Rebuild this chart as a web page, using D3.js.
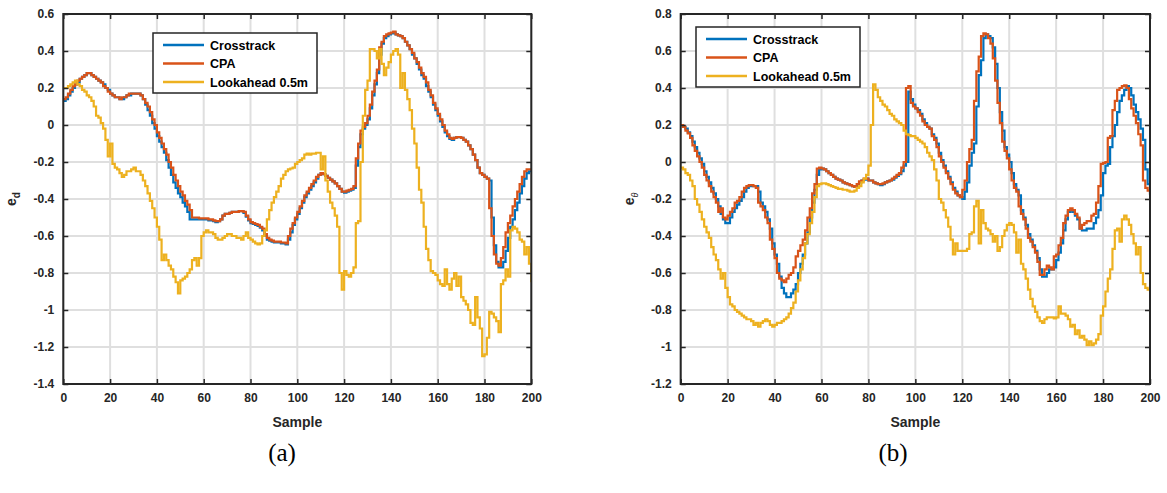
<!DOCTYPE html>
<html>
<head>
<meta charset="utf-8">
<script src="https://cdn.jsdelivr.net/npm/d3@7"></script>
<style>
  html, body { margin: 0; padding: 0; background: #fff; }
  svg { display: block; }
  .tick-label { font-family: "Liberation Sans", Arial, Helvetica, sans-serif; font-weight: bold; font-size: 12px; fill: #262626; }
  .axis-title { font-family: "Liberation Sans", Arial, Helvetica, sans-serif; font-weight: bold; font-size: 14px; fill: #262626; }
  .legend-text { font-family: "Liberation Sans", Arial, Helvetica, sans-serif; font-weight: bold; font-size: 12.5px; fill: #000; }
  .caption { font-family: "Liberation Serif", "DejaVu Serif", serif; font-size: 25px; fill: #000; }
</style>
</head>
<body>
<svg id="fig" width="1167" height="493"></svg>
<script>
// Series names and colours
const seriesNames = ["Crosstrack", "CPA", "Lookahead 0.5m"];
const seriesColors = ["#0072BD", "#D95319", "#EDB120"];

// X axis ticks (sample index), shared by both panels
const xTicks = [0, 20, 40, 60, 80, 100, 120, 140, 160, 180, 200];

// Panel (a): distance error e_d
const yTicksA = [0.6, 0.4, 0.2, 0, -0.2, -0.4, -0.6, -0.8, -1, -1.2, -1.4];
const crosstrackA = [
  0.13,0.14,0.16,0.18,0.20,0.22,0.23,0.25,0.26,0.27,0.28,0.28,0.27,0.26,0.25,0.24,0.23,0.22,0.20,0.19,
  0.17,0.16,0.15,0.15,0.14,0.14,0.15,0.16,0.16,0.17,0.17,0.17,0.17,0.16,0.14,0.11,0.08,0.05,0.01,-0.02,
  -0.06,-0.09,-0.12,-0.15,-0.19,-0.23,-0.27,-0.31,-0.34,-0.37,-0.39,-0.42,-0.44,-0.47,-0.51,-0.51,-0.51,-0.51,-0.51,-0.51,
  -0.51,-0.51,-0.515,-0.515,-0.52,-0.525,-0.52,-0.51,-0.49,-0.48,-0.48,-0.475,-0.47,-0.47,-0.47,-0.465,-0.465,-0.475,-0.495,-0.515,
  -0.53,-0.535,-0.54,-0.545,-0.555,-0.57,-0.60,-0.62,-0.625,-0.63,-0.635,-0.635,-0.635,-0.64,-0.64,-0.645,-0.62,-0.58,-0.54,-0.51,
  -0.48,-0.45,-0.42,-0.39,-0.37,-0.35,-0.33,-0.31,-0.29,-0.27,-0.26,-0.265,-0.275,-0.285,-0.295,-0.305,-0.315,-0.33,-0.345,-0.36,
  -0.365,-0.36,-0.355,-0.35,-0.34,-0.22,-0.12,-0.05,-0.02,0.00,0.03,0.09,0.16,0.22,0.28,0.38,0.44,0.47,0.48,0.49,
  0.495,0.50,0.49,0.485,0.48,0.47,0.45,0.43,0.41,0.38,0.36,0.33,0.30,0.27,0.25,0.21,0.18,0.15,0.11,0.08,
  0.05,0.02,-0.01,-0.04,-0.06,-0.075,-0.08,-0.07,-0.065,-0.065,-0.07,-0.08,-0.09,-0.11,-0.13,-0.16,-0.19,-0.23,-0.26,-0.27,
  -0.28,-0.29,-0.30,-0.50,-0.65,-0.74,-0.77,-0.77,-0.74,-0.68,-0.61,-0.55,-0.51,-0.46,-0.42,-0.37,-0.33,-0.29,-0.26,-0.25,
  -0.25
];
const cpaA = [
  0.14,0.15,0.17,0.19,0.21,0.22,0.24,0.25,0.26,0.27,0.28,0.28,0.27,0.26,0.25,0.24,0.23,0.21,0.20,0.18,
  0.17,0.16,0.15,0.15,0.14,0.15,0.15,0.16,0.17,0.17,0.17,0.17,0.17,0.16,0.14,0.12,0.10,0.07,0.03,0.00,
  -0.04,-0.07,-0.10,-0.13,-0.16,-0.20,-0.23,-0.27,-0.30,-0.33,-0.36,-0.38,-0.41,-0.43,-0.46,-0.50,-0.50,-0.50,-0.505,-0.505,
  -0.505,-0.505,-0.51,-0.51,-0.515,-0.52,-0.52,-0.51,-0.49,-0.48,-0.48,-0.475,-0.47,-0.47,-0.47,-0.465,-0.465,-0.47,-0.49,-0.51,
  -0.525,-0.53,-0.535,-0.54,-0.55,-0.56,-0.59,-0.61,-0.62,-0.625,-0.63,-0.63,-0.63,-0.635,-0.635,-0.64,-0.60,-0.56,-0.53,-0.50,
  -0.47,-0.44,-0.41,-0.38,-0.36,-0.34,-0.32,-0.30,-0.28,-0.27,-0.26,-0.265,-0.275,-0.285,-0.295,-0.305,-0.315,-0.33,-0.345,-0.36,
  -0.36,-0.355,-0.35,-0.345,-0.33,-0.18,-0.10,-0.03,-0.01,0.01,0.05,0.11,0.18,0.24,0.30,0.42,0.45,0.48,0.49,0.495,
  0.50,0.505,0.49,0.485,0.48,0.47,0.45,0.43,0.41,0.39,0.36,0.34,0.31,0.28,0.26,0.23,0.19,0.16,0.12,0.09,
  0.06,0.03,0.00,-0.03,-0.05,-0.07,-0.075,-0.07,-0.065,-0.065,-0.07,-0.08,-0.09,-0.11,-0.13,-0.16,-0.19,-0.23,-0.26,-0.27,
  -0.28,-0.29,-0.45,-0.60,-0.70,-0.75,-0.76,-0.72,-0.66,-0.58,-0.53,-0.49,-0.44,-0.40,-0.36,-0.32,-0.28,-0.25,-0.24,-0.24,
  -0.245
];
const lookaheadA = [
  0.20,0.20,0.21,0.22,0.23,0.24,0.22,0.21,0.19,0.18,0.16,0.15,0.13,0.10,0.05,0.04,0.01,-0.02,-0.08,-0.17,
  -0.10,-0.21,-0.23,-0.24,-0.26,-0.28,-0.27,-0.25,-0.25,-0.24,-0.23,-0.25,-0.25,-0.27,-0.30,-0.33,-0.37,-0.41,-0.45,-0.50,
  -0.55,-0.62,-0.73,-0.70,-0.73,-0.76,-0.78,-0.82,-0.85,-0.91,-0.84,-0.83,-0.82,-0.80,-0.78,-0.73,-0.72,-0.76,-0.72,-0.60,
  -0.58,-0.57,-0.58,-0.58,-0.59,-0.61,-0.62,-0.62,-0.61,-0.60,-0.59,-0.59,-0.60,-0.60,-0.61,-0.61,-0.62,-0.60,-0.58,-0.61,
  -0.62,-0.63,-0.64,-0.645,-0.64,-0.60,-0.57,-0.51,-0.46,-0.42,-0.39,-0.36,-0.33,-0.29,-0.27,-0.25,-0.24,-0.235,-0.23,-0.21,
  -0.20,-0.19,-0.18,-0.16,-0.155,-0.16,-0.155,-0.155,-0.15,-0.15,-0.24,-0.17,-0.30,-0.36,-0.42,-0.45,-0.49,-0.55,-0.80,-0.89,
  -0.79,-0.81,-0.82,-0.80,-0.77,-0.53,-0.52,-0.20,0.05,0.19,0.24,0.41,0.41,0.40,0.36,0.41,0.33,0.27,0.31,0.34,
  0.38,0.40,0.41,0.38,0.20,0.28,0.19,0.14,0.08,-0.02,-0.10,-0.23,-0.35,-0.42,-0.55,-0.67,-0.73,-0.79,-0.80,-0.81,
  -0.84,-0.86,-0.87,-0.78,-0.86,-0.89,-0.83,-0.80,-0.87,-0.82,-0.93,-0.95,-0.97,-1.00,-1.07,-1.08,-0.93,-1.04,-1.10,-1.25,
  -1.24,-1.15,-1.01,-1.02,-1.04,-1.06,-1.12,-0.86,-0.84,-0.78,-0.82,-0.57,-0.55,-0.56,-0.58,-0.62,-0.63,-0.70,-0.66,-0.75,
  -0.85
];

// Panel (b): heading error e_theta
const yTicksB = [0.8, 0.6, 0.4, 0.2, 0, -0.2, -0.4, -0.6, -0.8, -1, -1.2];
const crosstrackB = [
  0.20,0.19,0.18,0.16,0.14,0.11,0.08,0.05,0.02,-0.01,-0.05,-0.08,-0.11,-0.14,-0.17,-0.20,-0.24,-0.28,-0.31,-0.33,
  -0.33,-0.30,-0.27,-0.25,-0.23,-0.21,-0.19,-0.16,-0.14,-0.13,-0.13,-0.13,-0.13,-0.16,-0.22,-0.24,-0.27,-0.31,-0.36,-0.44,
  -0.50,-0.55,-0.62,-0.68,-0.71,-0.73,-0.73,-0.71,-0.69,-0.66,-0.60,-0.55,-0.50,-0.44,-0.38,-0.30,-0.22,-0.15,-0.07,-0.04,
  -0.035,-0.04,-0.05,-0.06,-0.07,-0.08,-0.09,-0.095,-0.10,-0.11,-0.115,-0.12,-0.125,-0.13,-0.135,-0.13,-0.11,-0.10,-0.095,-0.09,
  -0.10,-0.10,-0.11,-0.115,-0.12,-0.125,-0.12,-0.11,-0.105,-0.10,-0.095,-0.085,-0.075,-0.065,-0.05,-0.02,0.00,0.38,0.34,0.31,
  0.29,0.28,0.26,0.23,0.21,0.19,0.18,0.15,0.13,0.10,0.05,0.01,-0.02,-0.05,-0.08,-0.11,-0.14,-0.16,-0.18,-0.19,
  -0.20,-0.16,-0.11,-0.02,0.05,0.10,0.30,0.47,0.55,0.67,0.69,0.68,0.67,0.62,0.53,0.40,0.27,0.17,0.08,0.04,
  0.00,-0.06,-0.12,-0.15,-0.18,-0.26,-0.30,-0.34,-0.39,-0.42,-0.45,-0.48,-0.52,-0.58,-0.62,-0.62,-0.60,-0.58,-0.58,-0.57,
  -0.53,-0.49,-0.44,-0.37,-0.31,-0.27,-0.26,-0.27,-0.29,-0.31,-0.36,-0.37,-0.37,-0.36,-0.36,-0.36,-0.33,-0.30,-0.26,-0.18,
  -0.06,-0.02,-0.01,0.08,0.14,0.20,0.27,0.33,0.36,0.39,0.41,0.40,0.36,0.31,0.27,0.23,0.18,0.12,-0.04,-0.12,
  -0.18
];
const cpaB = [
  0.20,0.19,0.17,0.155,0.13,0.09,0.06,0.03,0.00,-0.03,-0.07,-0.10,-0.13,-0.16,-0.19,-0.22,-0.27,-0.25,-0.30,-0.31,
  -0.29,-0.27,-0.25,-0.22,-0.21,-0.19,-0.16,-0.14,-0.13,-0.125,-0.125,-0.13,-0.14,-0.22,-0.24,-0.26,-0.30,-0.33,-0.42,-0.47,
  -0.52,-0.60,-0.63,-0.64,-0.65,-0.63,-0.61,-0.60,-0.57,-0.51,-0.48,-0.45,-0.42,-0.37,-0.30,-0.25,-0.17,-0.12,-0.035,-0.03,
  -0.035,-0.04,-0.05,-0.06,-0.07,-0.08,-0.09,-0.095,-0.10,-0.11,-0.115,-0.12,-0.125,-0.13,-0.135,-0.12,-0.105,-0.10,-0.09,-0.09,
  -0.10,-0.10,-0.11,-0.115,-0.12,-0.12,-0.115,-0.11,-0.105,-0.10,-0.09,-0.08,-0.07,-0.06,-0.03,0.00,0.40,0.41,0.32,0.30,
  0.29,0.27,0.25,0.22,0.20,0.19,0.18,0.14,0.12,0.08,0.03,0.00,-0.03,-0.06,-0.09,-0.12,-0.15,-0.17,-0.18,-0.19,
  -0.15,-0.10,0.00,0.07,0.12,0.33,0.49,0.57,0.68,0.695,0.69,0.67,0.64,0.56,0.44,0.32,0.21,0.11,0.06,0.02,
  -0.04,-0.10,-0.14,-0.16,-0.24,-0.28,-0.31,-0.36,-0.41,-0.43,-0.46,-0.49,-0.54,-0.61,-0.61,-0.58,-0.56,-0.57,-0.58,-0.51,
  -0.50,-0.45,-0.41,-0.33,-0.29,-0.26,-0.25,-0.26,-0.28,-0.30,-0.36,-0.34,-0.33,-0.32,-0.32,-0.29,-0.28,-0.22,-0.13,-0.01,
  -0.005,0.00,0.13,0.14,0.28,0.33,0.39,0.40,0.41,0.415,0.40,0.34,0.29,0.25,0.21,0.15,0.09,-0.10,-0.14,-0.155,
  -0.17
];
const lookaheadB = [
  -0.03,-0.04,-0.06,-0.07,-0.10,-0.13,-0.20,-0.23,-0.27,-0.31,-0.35,-0.38,-0.41,-0.46,-0.50,-0.53,-0.58,-0.63,-0.60,-0.68,
  -0.73,-0.77,-0.78,-0.80,-0.81,-0.82,-0.83,-0.84,-0.85,-0.85,-0.86,-0.88,-0.87,-0.89,-0.87,-0.86,-0.85,-0.86,-0.88,-0.89,
  -0.88,-0.87,-0.87,-0.86,-0.85,-0.84,-0.82,-0.79,-0.76,-0.70,-0.64,-0.58,-0.52,-0.44,-0.39,-0.33,-0.27,-0.19,-0.13,-0.12,
  -0.115,-0.115,-0.12,-0.125,-0.13,-0.135,-0.14,-0.145,-0.145,-0.15,-0.15,-0.155,-0.16,-0.16,-0.155,-0.14,-0.13,-0.11,-0.09,-0.07,
  -0.02,0.20,0.42,0.39,0.35,0.33,0.31,0.30,0.28,0.26,0.25,0.23,0.22,0.21,0.20,0.17,0.15,0.145,0.14,0.14,
  0.13,0.12,0.11,0.10,0.08,0.05,0.03,0.01,-0.04,-0.10,-0.20,-0.22,-0.26,-0.30,-0.35,-0.42,-0.50,-0.44,-0.48,-0.48,
  -0.48,-0.48,-0.47,-0.39,-0.38,-0.24,-0.21,-0.44,-0.26,-0.33,-0.36,-0.37,-0.39,-0.43,-0.40,-0.48,-0.46,-0.40,-0.37,-0.34,
  -0.33,-0.34,-0.38,-0.49,-0.42,-0.55,-0.58,-0.63,-0.69,-0.74,-0.78,-0.81,-0.84,-0.86,-0.87,-0.85,-0.84,-0.84,-0.84,-0.845,
  -0.84,-0.78,-0.82,-0.82,-0.83,-0.85,-0.89,-0.88,-0.93,-0.91,-0.95,-0.94,-0.96,-0.99,-0.97,-0.99,-0.98,-0.96,-0.93,-0.83,
  -0.78,-0.70,-0.63,-0.58,-0.47,-0.37,-0.36,-0.43,-0.31,-0.29,-0.31,-0.34,-0.39,-0.44,-0.50,-0.46,-0.60,-0.66,-0.68,-0.69,
  -0.70
];

const svg = d3.select("#fig");

// Tick text in the plain-hyphen style: "0.6", "0", "-0.2", "-1"
const tickText = d => (Math.abs(d) < 1e-9 ? "0" : String(+d.toFixed(1)));

function drawPanel(cfg) {
  const x = d3.scaleLinear().domain([0, 200]).range([cfg.left, cfg.right]);
  const y = d3.scaleLinear().domain([cfg.yTicks[cfg.yTicks.length - 1], cfg.yTicks[0]]).range([cfg.bottom, cfg.top]);
  const g = svg.append("g");
  const w = cfg.right - cfg.left, h = cfg.bottom - cfg.top;

  // grid
  const grid = g.append("g").attr("stroke", "#dfdfdf").attr("stroke-width", 2);
  xTicks.forEach(t => grid.append("line").attr("x1", x(t)).attr("x2", x(t)).attr("y1", cfg.top).attr("y2", cfg.bottom));
  cfg.yTicks.forEach(t => grid.append("line").attr("x1", cfg.left).attr("x2", cfg.right).attr("y1", y(t)).attr("y2", y(t)));

  // clip for the data lines
  const clipId = "clip-" + cfg.id;
  svg.append("defs").append("clipPath").attr("id", clipId)
    .append("rect").attr("x", cfg.left).attr("y", cfg.top).attr("width", w).attr("height", h);

  const line = d3.line().x((d, i) => x(i)).y(d => y(d)).curve(d3.curveStepAfter);
  const lines = g.append("g").attr("clip-path", `url(#${clipId})`);
  cfg.series.forEach((s, k) => {
    lines.append("path").datum(s).attr("d", line)
      .attr("fill", "none").attr("stroke", seriesColors[k])
      .attr("stroke-width", 2.2).attr("stroke-linejoin", "miter");
  });

  // axes (box with inward ticks on all sides)
  const tickLen = 5;
  const axisColor = "#262626";
  const bottomAxis = d3.axisBottom(x).tickValues(xTicks).tickSizeInner(-tickLen).tickSizeOuter(0).tickPadding(9).tickFormat(d => String(d));
  const topAxis = d3.axisTop(x).tickValues(xTicks).tickSizeInner(-tickLen).tickSizeOuter(0).tickFormat("");
  const leftAxis = d3.axisLeft(y).tickValues(cfg.yTicks).tickSizeInner(-tickLen).tickSizeOuter(0).tickPadding(9).tickFormat(tickText);
  const rightAxis = d3.axisRight(y).tickValues(cfg.yTicks).tickSizeInner(-tickLen).tickSizeOuter(0).tickFormat("");

  const axes = [
    g.append("g").attr("transform", `translate(0,${cfg.bottom})`).call(bottomAxis),
    g.append("g").attr("transform", `translate(0,${cfg.top})`).call(topAxis),
    g.append("g").attr("transform", `translate(${cfg.left},0)`).call(leftAxis),
    g.append("g").attr("transform", `translate(${cfg.right},0)`).call(rightAxis)
  ];
  axes.forEach(a => {
    a.select(".domain").remove();
    a.selectAll(".tick line").attr("stroke", axisColor).attr("stroke-width", 1.5);
    a.selectAll(".tick text").attr("class", "tick-label").attr("fill", axisColor);
  });
  g.append("rect").attr("x", cfg.left).attr("y", cfg.top).attr("width", w).attr("height", h)
    .attr("fill", "none").attr("stroke", axisColor).attr("stroke-width", 2);

  // axis titles
  g.append("text").attr("class", "axis-title").attr("text-anchor", "middle")
    .attr("x", (cfg.left + cfg.right) / 2).attr("y", cfg.bottom + 43).text("Sample");
  const yl = g.append("text").attr("class", "axis-title").attr("text-anchor", "middle")
    .attr("transform", `translate(${cfg.left - 47},${(cfg.top + cfg.bottom) / 2}) rotate(-90)`);
  yl.append("tspan").text("e");
  yl.append("tspan").attr("dy", 4).attr("font-size", cfg.subSize).attr("font-weight", cfg.subWeight)
    .attr("font-style", cfg.subStyle).text(cfg.sub);

  // legend
  const lg = g.append("g").attr("transform", `translate(${cfg.legX},${cfg.legY})`);
  lg.append("rect").attr("width", 164).attr("height", 60).attr("fill", "#fff")
    .attr("stroke", "#262626").attr("stroke-width", 1.5);
  seriesNames.forEach((name, k) => {
    const yy = 12 + k * 18.5;
    lg.append("line").attr("x1", 10).attr("x2", 51).attr("y1", yy).attr("y2", yy)
      .attr("stroke", seriesColors[k]).attr("stroke-width", 2.5);
    lg.append("text").attr("class", "legend-text").attr("x", 57).attr("y", yy + 4.5).text(name);
  });

  // caption
  svg.append("text").attr("class", "caption").attr("text-anchor", "middle")
    .attr("x", cfg.capX).attr("y", 461).text(cfg.caption);
}

drawPanel({
  id: "a", left: 63.3, right: 531.3, top: 14, bottom: 384,
  yTicks: yTicksA, series: [crosstrackA, cpaA, lookaheadA],
  sub: "d", subSize: "10px", subWeight: "bold", subStyle: "normal",
  legX: 153, legY: 33, caption: "(a)", capX: 282
});
drawPanel({
  id: "b", left: 680.7, right: 1150, top: 14, bottom: 384,
  yTicks: yTicksB, series: [crosstrackB, cpaB, lookaheadB],
  sub: "θ", subSize: "9px", subWeight: "normal", subStyle: "italic",
  legX: 696, legY: 27, caption: "(b)", capX: 893
});
</script>
</body>
</html>
